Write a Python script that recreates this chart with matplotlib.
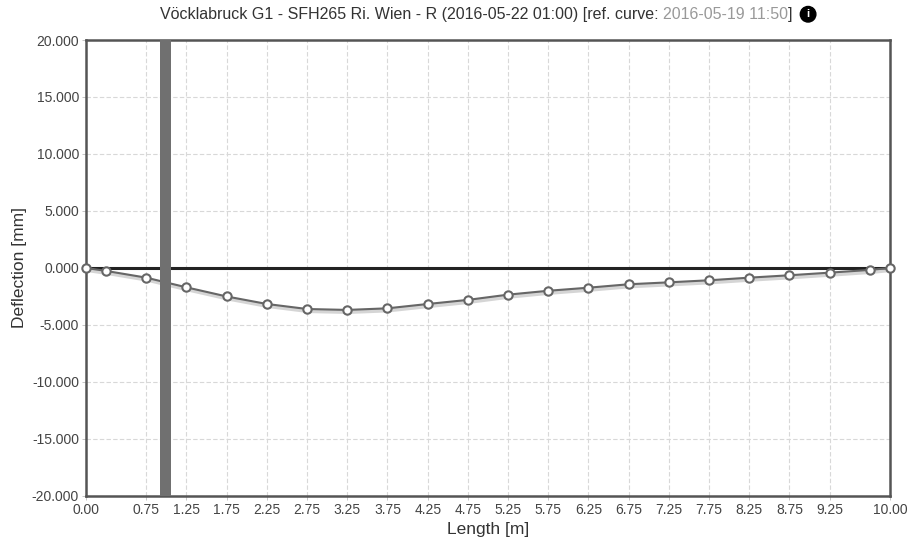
import matplotlib.pyplot as plt
import matplotlib.transforms as mtransforms

# deflection curve
length_m = [0.0, 0.25, 0.75, 1.25, 1.75, 2.25, 2.75, 3.25, 3.75, 4.25, 4.75,
            5.25, 5.75, 6.25, 6.75, 7.25, 7.75, 8.25, 8.75, 9.25, 9.75, 10.0]
deflection_mm = [0.0, -0.26, -0.85, -1.7, -2.5, -3.16, -3.6, -3.68, -3.54, -3.16, -2.8,
                 -2.34, -2.0, -1.73, -1.43, -1.26, -1.08, -0.85, -0.64, -0.41, -0.17, 0.0]

x_ticks = [0.0, 0.75, 1.25, 1.75, 2.25, 2.75, 3.25, 3.75, 4.25, 4.75, 5.25,
           5.75, 6.25, 6.75, 7.25, 7.75, 8.25, 8.75, 9.25, 10.0]
y_ticks = [20, 15, 10, 5, 0, -5, -10, -15, -20]

# sensor position marker
sensor_x = 0.99
sensor_width = 0.14

plt.rcParams['font.family'] = ['Liberation Sans', 'DejaVu Sans']

fig = plt.figure(figsize=(9.1, 5.48), dpi=100)
ax = fig.add_axes([0.0945, 0.095, 0.8835, 0.832])

ax.set_xlim(0, 10)
ax.set_ylim(-20, 20)
ax.set_xticks(x_ticks)
ax.set_xticklabels(['%.2f' % t for t in x_ticks])
ax.set_yticks(y_ticks)
ax.set_yticklabels(['%.3f' % t for t in y_ticks])
ax.tick_params(labelsize=10, colors='#444444', length=3, width=0.6, pad=2)
ax.tick_params(axis='both', color='#bbbbbb')

ax.grid(True, color='#d8d8d8', linestyle=(0, (4, 2)), linewidth=0.8)
ax.set_axisbelow(True)

for s in ax.spines.values():
    s.set_color('#555555')
    s.set_linewidth(1.8)

# zero line
ax.axhline(0, color='#222222', linewidth=2.2, zorder=2)

# shadow of the curve
shadow = mtransforms.offset_copy(ax.transData, fig=fig, x=1.0, y=-2.0, units='dots')
ax.plot(length_m, deflection_mm, color='#c4c4c4', linewidth=3, alpha=0.7,
        transform=shadow, zorder=3)
ax.plot(length_m, deflection_mm, color='#666666', linewidth=1.5, marker='o',
        markersize=6, markerfacecolor='white', markeredgecolor='#666666',
        markeredgewidth=1.5, zorder=4, clip_on=False)

# sensor bar
ax.axvspan(sensor_x - sensor_width / 2, sensor_x + sensor_width / 2,
           color='#707070', zorder=5, linewidth=0)

ax.set_xlabel('Length [m]', fontsize=12.5, color='#333333')
ax.set_ylabel('Deflection [mm]', fontsize=12.5, color='#333333')
ax.xaxis.set_label_coords(0.5, -0.058)
ax.yaxis.set_label_coords(-0.074, 0.5)

# title in two colours plus info icon
t1 = fig.text(160 / 910, 0.974, 'Vöcklabruck G1 - SFH265 Ri. Wien - R (2016-05-22 01:00) [ref. curve: ',
              fontsize=11.5, color='#333333', va='center', ha='left')
fig.canvas.draw()
r = fig.canvas.get_renderer()
bb = t1.get_window_extent(r)
t2 = fig.text(bb.x1 / 910, 0.974, '2016-05-19 11:50', fontsize=11.5, color='#999999',
              va='center', ha='left')
bb2 = t2.get_window_extent(r)
t3 = fig.text(bb2.x1 / 910, 0.974, ']', fontsize=11.5, color='#333333', va='center', ha='left')
bb3 = t3.get_window_extent(r)
fig.text(bb3.x1 / 910 + 0.017, 0.974, 'i', fontsize=8, color='white', fontweight='bold',
         va='center', ha='center',
         bbox=dict(boxstyle='circle,pad=0.25', fc='black', ec='black'))

fig.savefig('out.png', dpi=100)
